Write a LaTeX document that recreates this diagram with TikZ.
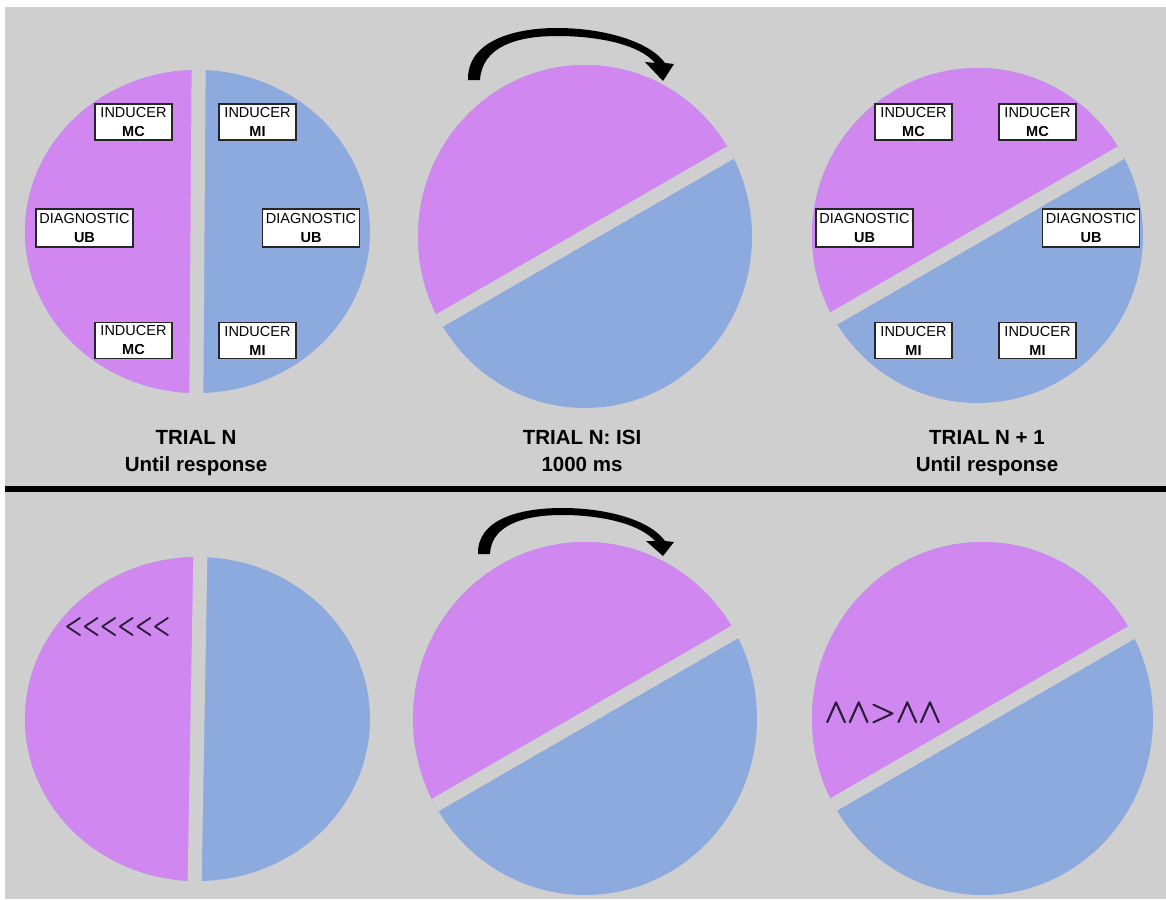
\documentclass[tikz,border=0pt]{standalone}
\usepackage{fix-cm}
\usepackage{fontspec}
\setmainfont{Liberation Sans}

\definecolor{panelgrey}{HTML}{D0CFD0}
\definecolor{discpink}{HTML}{D088F0}
\definecolor{discblue}{HTML}{8DAADE}
\definecolor{glyphink}{HTML}{2A1C3A}

% glyphs filled and outlined, for a slightly heavier stroke
\newcommand{\heavyglyphs}[1]{%
  \special{pdf:literal direct 2 Tr 0.7 w}#1\special{pdf:literal direct 0 Tr}}

\tikzset{
  cue/.style={draw=black!85, line width=1.3pt, fill=white, inner sep=0pt,
    minimum width=77pt, minimum height=36pt, align=center,
    font=\fontsize{14.5}{19}\selectfont},
  diag/.style={cue, minimum width=97pt, minimum height=38pt},
  caption/.style={inner sep=0pt, anchor=north, align=center,
    font=\bfseries\fontsize{20.5}{27}\selectfont},
  turn/.style={fill=black},
  glyphs/.style={inner sep=0pt, text=glyphink},
}

% A disc split into a pink and a blue half by a grey band.
% #1,#2 centre; #3,#4 radii; #5 direction of the cut (degrees)
\newcommand{\splitdisc}[5]{%
  \begin{scope}[shift={(#1,#2)}]
    \begin{scope}
      \clip (0,0) ellipse ({#3pt} and {#4pt});
      \fill[discblue] (-200,-200) rectangle (200,200);
      \fill[discpink, rotate=#5] (-200,0) rectangle (200,-200);
      \draw[panelgrey, line width=14pt, rotate=#5] (-200,0) -- (200,0);
    \end{scope}
  \end{scope}}

\begin{document}
\begin{tikzpicture}[x=1pt,y=-1pt]
\useasboundingbox (0,0) rectangle (1166,899);
\fill[white] (0,0) rectangle (1166,899);
\fill[panelgrey] (5,7) rectangle (1166,899);
\fill[black] (5,485.5) rectangle (1166,491.5);

% upper row
\splitdisc{197.5}{231.5}{172.5}{161.5}{89.6}
\splitdisc{585}{236.5}{167}{171.5}{30}
\splitdisc{977.5}{235.5}{165.5}{167.5}{30}
% lower row
\splitdisc{197.5}{719}{172.5}{162}{89}
\splitdisc{585}{718.5}{172}{176.5}{30}
\splitdisc{982.5}{718.5}{170.5}{176.5}{30}

% rotation arrows
\fill[turn] (468,80) .. controls (467,42) and (512,28) .. (557,28)
  .. controls (605,28) and (650,42) .. (665,63)
  -- (674,64) -- (663,81) -- (645,62) -- (655,63)
  .. controls (640,45) and (600,36) .. (557,36)
  .. controls (516,36) and (482,47) .. (480,80) -- cycle;
\fill[turn] (478,554) .. controls (477,520) and (518,508) .. (562,508)
  .. controls (607,508) and (650,520) .. (665,541)
  -- (674,542) -- (663,556) -- (646,541) -- (655,541)
  .. controls (640,524) and (602,515) .. (562,515)
  .. controls (522,515) and (491,526) .. (490,554) -- cycle;

% trial N cues
\node[cue]  (a1) at (133.5,122)   {INDUCER\\\textbf{MC}};
\node[cue]  (a2) at (257.5,122)   {INDUCER\\\textbf{MI}};
\node[diag] (a3) at (84.5,228)    {DIAGNOSTIC\\\textbf{UB}};
\node[diag] (a4) at (311,228)     {DIAGNOSTIC\\\textbf{UB}};
\node[cue]  (a5) at (133.5,340.5) {INDUCER\\\textbf{MC}};
\node[cue]  (a6) at (257.5,340.5) {INDUCER\\\textbf{MI}};

% trial N+1 cues
\node[cue]  (c1) at (913.5,122)   {INDUCER\\\textbf{MC}};
\node[cue]  (c2) at (1037.5,122)  {INDUCER\\\textbf{MC}};
\node[diag] (c3) at (864.5,228)   {DIAGNOSTIC\\\textbf{UB}};
\node[diag] (c4) at (1091,228)    {DIAGNOSTIC\\\textbf{UB}};
\node[cue]  (c5) at (913.5,340.5) {INDUCER\\\textbf{MI}};
\node[cue]  (c6) at (1037.5,340.5){INDUCER\\\textbf{MI}};

% captions
\node[caption] (capA) at (196,430) {TRIAL N\\Until response};
\node[caption] (capB) at (582,430) {TRIAL N: ISI\\1000 ms};
\node[caption] (capC) at (987,430) {TRIAL N + 1\\Until response};

% flanker strings
\node[glyphs, font=\fontsize{33}{33}\selectfont] (flankA) at (117.5,626.5)
  {\heavyglyphs{\scalebox{0.7}[1]{${<}{<}{<}{<}{<}{<}$}}};
\node[glyphs, font=\fontsize{34}{34}\selectfont] (flankB) at (883,713)
  {\heavyglyphs{${\wedge}{\wedge}{>}{\wedge}{\wedge}$}};
\end{tikzpicture}
\end{document}
